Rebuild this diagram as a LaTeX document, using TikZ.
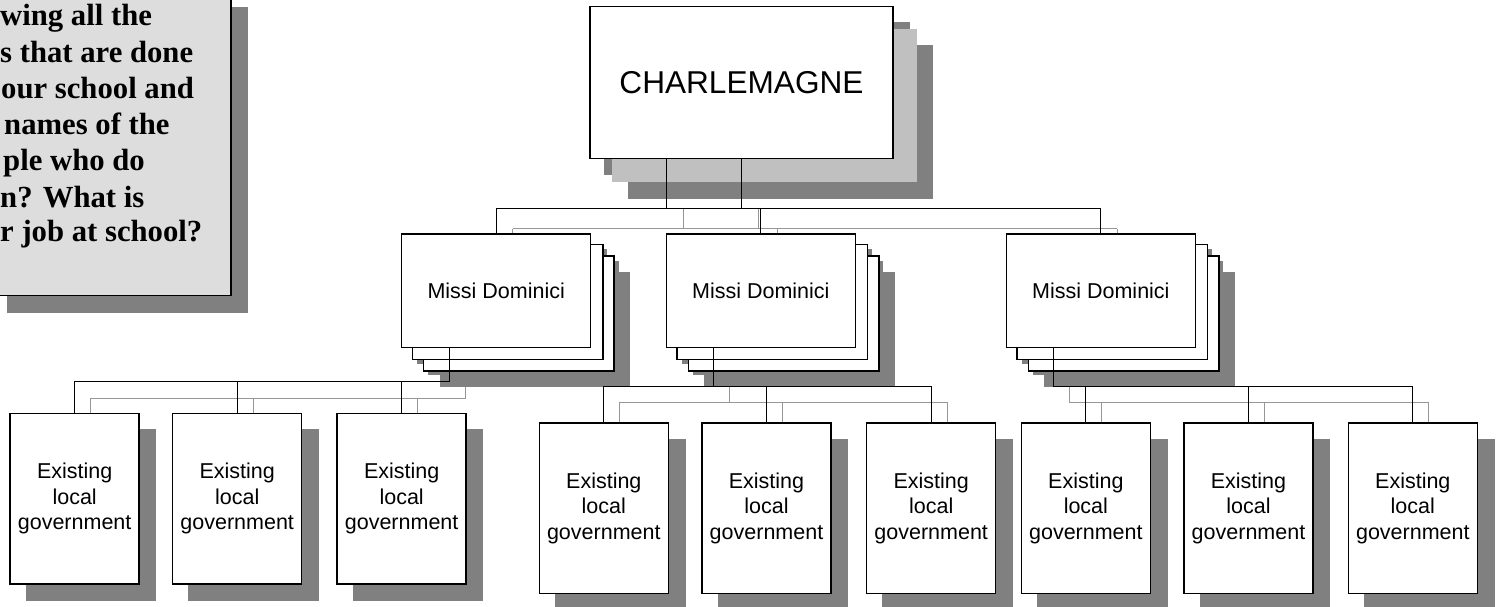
\documentclass[tikz,border=0pt]{standalone}
\usepackage{fontspec}
\setmainfont{Liberation Sans}
\newfontfamily\tnrfont{Liberation Serif}
\usetikzlibrary{calc}
\definecolor{shd}{RGB}{128,128,128}
\definecolor{lay}{RGB}{192,192,192}
\definecolor{gln}{RGB}{150,150,150}
\definecolor{tbfill}{RGB}{221,221,221}
\pgfdeclarelayer{glines}
\pgfdeclarelayer{shadows}
\pgfdeclarelayer{stack}
\pgfdeclarelayer{fg}
\pgfsetlayers{glines,shadows,stack,main,fg}

\newcommand\mkmissi[2]{%
  \node[box, minimum width=189pt, minimum height=113.3pt, font=\fontsize{21.5}{25}\selectfont] (#1) at (#2,290.65) {Missi Dominici};
  \begin{pgfonlayer}{stack}
    \draw[stackbox] ($(#1.south west)+(22.7,22.7)$) rectangle ($(#1.north east)+(22.7,22.7)$);
    \draw[stackbox] ($(#1.south west)+(11.3,11.3)$) rectangle ($(#1.north east)+(11.3,11.3)$);
  \end{pgfonlayer}
  \begin{pgfonlayer}{shadows}
    \fill[shadowfill] ($(#1.south west)+(16,16)$) rectangle ($(#1.north east)+(16,16)$);
    \fill[shadowfill] ($(#1.south west)+(27.3,27.3)$) rectangle ($(#1.north east)+(27.3,27.3)$);
    \fill[shadowfill] ($(#1.south west)+(38.7,38.7)$) rectangle ($(#1.north east)+(38.7,38.7)$);
  \end{pgfonlayer}}

\newcommand\mkexist[3]{%
  \node[box, minimum width=129pt, minimum height=170.7pt, font=\fontsize{21.5}{25.5}\selectfont] (#1) at (#2,#3) {Existing\\local\\government};
  \coordinate (#1g) at ($(#1.north)+(16,0)$);
  \begin{pgfonlayer}{shadows}
    \fill[shadowfill] ($(#1.south west)+(16.5,16.5)$) rectangle ($(#1.north east)+(16.5,16.5)$);
  \end{pgfonlayer}}

\begin{document}
\begin{tikzpicture}[x=1pt,y=-1pt,
  box/.style={draw=black, fill=white, line width=1.5pt, inner sep=0pt, align=center},
  stackbox/.style={draw=black, fill=white, line width=1.5pt},
  shadowfill/.style={fill=shd, draw=none},
  blk/.style={draw=black, line width=1pt},
  gryl/.style={draw=gln, line width=1pt},
  tline/.style={anchor=base west, inner sep=0pt, font=\tnrfont\bfseries\fontsize{30.7}{36}\selectfont}]
\useasboundingbox (0,0) rectangle (1496,607);
\clip (0,0) rectangle (1496,607);

% ---------- top-left text box ----------
\fill[shadowfill] (7,7) rectangle (248,312.5);
\filldraw[fill=tbfill, draw=black, line width=1.5pt] (-10,-10) rectangle (231,295.7);
\node[tline] (t1) at (0,26) {wing all the};
\node[tline] (t2) at (0,62.5) {s that are done};
\node[tline] (t3) at (1,98.5) {our school and};
\node[tline] (t4) at (4,135) {names of the};
\node[tline] (t5) at (3,171) {ple who do};
\node[tline] (t6) at (0,207) {n? What is};
\node[tline] (t7) at (0,241) {r job at school?};

% ---------- Charlemagne ----------
\node[box, minimum width=303.3pt, minimum height=151.6pt, font=\fontsize{31.6}{38}\selectfont] (ch) at (741.5,82.5) {CHARLEMAGNE};
\begin{pgfonlayer}{stack}
  \fill[lay] ($(ch.south west)+(23,23)$) rectangle ($(ch.north east)+(23,23)$);
\end{pgfonlayer}
\begin{pgfonlayer}{shadows}
  \fill[shadowfill] ($(ch.south west)+(15,16)$) rectangle ($(ch.north east)+(16,16)$);
  \fill[shadowfill] ($(ch.south west)+(39,39.5)$) rectangle ($(ch.north east)+(39.5,39.5)$);
\end{pgfonlayer}

% ---------- Missi Dominici ----------
\mkmissi{ml}{496.2}
\mkmissi{mm}{760.85}
\mkmissi{mr}{1100.85}

% ---------- Existing local government ----------
\mkexist{e1}{74.65}{498.65}
\mkexist{e2}{237.2}{498.65}
\mkexist{e3}{401.65}{498.65}
\mkexist{e4}{603.8}{508.3}
\mkexist{e5}{766.5}{508.3}
\mkexist{e6}{931.2}{508.3}
\mkexist{e7}{1085.85}{508.3}
\mkexist{e8}{1248.5}{508.3}
\mkexist{e9}{1412.8}{508.3}

% ---------- connectors: Charlemagne -> Missi ----------
\coordinate (chj) at (742,208.9);
\coordinate (chg) at (758,228.7);
\coordinate (c2) at ($(ch.south)+(-75,0)$);
\coordinate (cg1) at ($(ch.south)+(16.5,0)$);
\coordinate (cg2) at ($(ch.south)+(-58.5,0)$);
\coordinate (mlg) at ($(ml.north)+(16.3,0)$);
\coordinate (mmg) at ($(mm.north)+(16.3,0)$);
\coordinate (mrg) at ($(mr.north)+(16.3,0)$);
\begin{pgfonlayer}{fg}
  \draw[blk] (ch.south) -- (ch.south |- chj);
  \draw[blk] (c2) -- (c2 |- chj);
  \draw[blk] (ml.north |- chj) -- (mr.north |- chj);
  \draw[blk] (ml.north |- chj) -- (ml.north);
  \draw[blk] (mm.north |- chj) -- (mm.north);
  \draw[blk] (mr.north |- chj) -- (mr.north);
\end{pgfonlayer}
\begin{pgfonlayer}{glines}
  \draw[gryl] (cg1 |- chj) -- (cg1 |- chg);
  \draw[gryl] (cg2 |- chj) -- (cg2 |- chg);
  \draw[gryl] (mlg |- chg) -- (mrg |- chg);
  \draw[gryl] (mlg |- chg) -- (mlg);
  \draw[gryl] (mmg |- chg) -- (mmg);
  \draw[gryl] (mrg |- chg) -- (mrg);
\end{pgfonlayer}

% ---------- connectors: Missi -> Existing ----------
\coordinate (lj) at ($(ml.south)+(-47.2,33.4)$);
\coordinate (lg) at ($(lj)+(16.3,16.6)$);
\coordinate (mj) at ($(mm.south)+(-47.5,38.4)$);
\coordinate (mg) at ($(mj)+(16.5,16)$);
\coordinate (rj) at ($(mr.south)+(-47.2,38.4)$);
\coordinate (rg) at ($(rj)+(16.3,16)$);
\begin{pgfonlayer}{fg}
  \draw[blk] (ml.south -| lj) -- (lj) -- (lj -| e1.north);
  \draw[blk] (lj -| e1.north) -- (e1.north);
  \draw[blk] (lj -| e2.north) -- (e2.north);
  \draw[blk] (lj -| e3.north) -- (e3.north);
  \draw[blk] (mm.south -| mj) -- (mj);
  \draw[blk] (mj -| e4.north) -- (mj -| e6.north);
  \draw[blk] (mj -| e4.north) -- (e4.north);
  \draw[blk] (mj -| e5.north) -- (e5.north);
  \draw[blk] (mj -| e6.north) -- (e6.north);
  \draw[blk] (mr.south -| rj) -- (rj) -- (rj -| e9.north);
  \draw[blk] (rj -| e7.north) -- (e7.north);
  \draw[blk] (rj -| e8.north) -- (e8.north);
  \draw[blk] (rj -| e9.north) -- (e9.north);
\end{pgfonlayer}
\begin{pgfonlayer}{glines}
  \draw[gryl] (lg |- lj) -- (lg) -- (lg -| e1g);
  \draw[gryl] (lg -| e1g) -- (e1g);
  \draw[gryl] (lg -| e2g) -- (e2g);
  \draw[gryl] (lg -| e3g) -- (e3g);
  \draw[gryl] (mg |- mj) -- (mg);
  \draw[gryl] (mg -| e4g) -- (mg -| e6g);
  \draw[gryl] (mg -| e4g) -- (e4g);
  \draw[gryl] (mg -| e5g) -- (e5g);
  \draw[gryl] (mg -| e6g) -- (e6g);
  \draw[gryl] (rg |- rj) -- (rg) -- (rg -| e9g);
  \draw[gryl] (rg -| e7g) -- (e7g);
  \draw[gryl] (rg -| e8g) -- (e8g);
  \draw[gryl] (rg -| e9g) -- (e9g);
\end{pgfonlayer}
\end{tikzpicture}
\end{document}
